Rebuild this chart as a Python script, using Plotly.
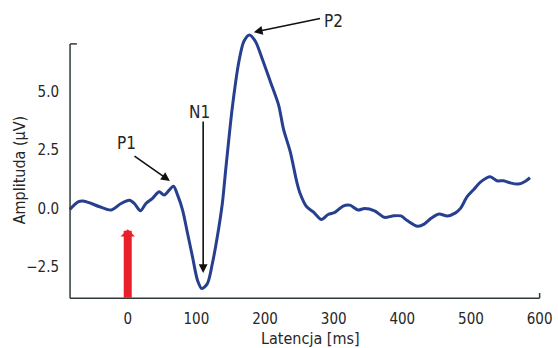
import plotly.graph_objects as go

# Latency (ms) and amplitude (µV)
latency = [-84.3, -72.3, -65.1, -53.1, -40.9, -24.1, -9.7, 2.5, 9.7, 18.4, 26.5, 36.1,
           45.8, 53.1, 66.5, 72.7, 79.9, 87.2, 94.4, 101.6, 108.0, 116.1, 123.3, 130.5,
           137.8, 142.7, 152.2, 161.9, 169.1, 177.4, 186.1, 195.6, 207.8, 219.8, 227.0,
           236.7, 246.2, 251.1, 260.7, 270.3, 282.3, 292.0, 301.7, 313.7, 323.4, 335.4,
           345.1, 359.6, 374.0, 386.0, 398.0, 407.7, 422.2, 431.8, 441.4, 453.5, 465.5,
           477.5, 484.7, 494.4, 504.1, 513.7, 528.1, 537.8, 547.5, 557.0, 569.2, 578.7, 586.0]
amplitude = [-0.04, 0.28, 0.32, 0.21, 0.07, -0.07, 0.21, 0.35, 0.21, -0.10, 0.21, 0.43,
             0.71, 0.57, 0.95, 0.57, -0.07, -1.07, -2.07, -3.06, -3.42, -3.20, -2.35, -1.21,
             0.21, 1.64, 4.27, 6.26, 7.12, 7.40, 7.12, 6.41, 5.41, 4.41, 3.37,
             2.42, 1.14, 0.64, 0.07, -0.15, -0.47, -0.26, -0.17, 0.10, 0.14, -0.07,
             0.00, -0.10, -0.38, -0.32, -0.32, -0.53, -0.76, -0.67, -0.43, -0.24, -0.32,
             -0.19, 0.00, 0.50, 0.81, 1.12, 1.35, 1.18, 1.18, 1.09, 1.04, 1.15, 1.31]

x_ticks = [0, 100, 200, 300, 400, 500, 600]
y_ticks = [-2.5, 0.0, 2.5, 5.0]
y_tick_labels = ["\u22122.5", "0.0", "2.5", "5.0"]

x_axis_start, x_axis_end = -84, 600
y_axis_start, y_axis_end = -3.83, 7.02

# Peak labels: (text, text_x, text_y, tail_x, tail_y, tip_x, tip_y)
peaks = [
    ("P1", -1.9, 2.78, 7.7, 2.28, 61.4, 1.17),
    ("N1", 105.1, 4.13, 109.9, 3.77, 109.9, -2.76),
    ("P2", 299.3, 8.01, 282.3, 8.12, 183.6, 7.52),
]
stimulus_x = 0
stimulus_tip = -0.89

FONT = "Liberation Sans Narrow, DejaVu Sans Condensed, Roboto Condensed, Arial Narrow, Roboto, sans-serif"
AXC = "#2f3b3b"
TXT = "#262626"

fig = go.Figure()
fig.add_trace(go.Scatter(x=latency, y=amplitude, mode="lines",
                         line=dict(color="#263f8e", width=3, shape="spline", smoothing=0.8),
                         hoverinfo="skip", showlegend=False))

shapes = [
    dict(type="line", xref="x", yref="y", x0=x_axis_start, x1=x_axis_start,
         y0=y_axis_start, y1=y_axis_end, line=dict(color=AXC, width=1.5)),
    dict(type="line", xref="x", yref="y", x0=x_axis_start, x1=x_axis_end,
         y0=y_axis_start, y1=y_axis_start, line=dict(color=AXC, width=1.5)),
    dict(type="line", xref="x", yref="y", x0=x_axis_start, x1=x_axis_start + 10,
         y0=y_axis_end, y1=y_axis_end, line=dict(color=AXC, width=1.5)),
    dict(type="line", xref="x", yref="y", x0=x_axis_end, x1=x_axis_end,
         y0=y_axis_start, y1=y_axis_start + 0.22, line=dict(color=AXC, width=1.5)),
]

annotations = []
for name, tx, ty, ax_, ay_, hx, hy in peaks:
    annotations.append(dict(x=tx, y=ty, xref="x", yref="y", text=name, showarrow=False,
                            font=dict(family=FONT, size=17, color=TXT)))
    annotations.append(dict(x=hx, y=hy, ax=ax_, ay=ay_, xref="x", yref="y", axref="x", ayref="y",
                            text="", showarrow=True, arrowhead=2, arrowsize=1.1,
                            arrowwidth=1.6, arrowcolor="#111111", standoff=0))
annotations.append(dict(x=stimulus_x, y=stimulus_tip, ax=stimulus_x, ay=y_axis_start - 0.05,
                        xref="x", yref="y", axref="x", ayref="y", text="", showarrow=True,
                        arrowhead=1, arrowsize=0.3, arrowwidth=8, arrowcolor="#e8202a",
                        standoff=0))
annotations.append(dict(x=0.5126, y=-0.125, xref="paper", yref="paper", text="Latencja [ms]",
                        xanchor="center", yanchor="middle",
                        showarrow=False, font=dict(family=FONT, size=16, color=TXT)))
annotations.append(dict(x=-0.1008, y=0.4426, xref="paper", yref="paper", text="Amplituda (\u00b5V)",
                        xanchor="center", yanchor="middle",
                        showarrow=False, textangle=-90, font=dict(family=FONT, size=16, color=TXT)))

fig.update_layout(
    width=558, height=348,
    margin=dict(l=68, r=14, t=5, b=47),
    paper_bgcolor="white", plot_bgcolor="white",
    shapes=shapes, annotations=annotations,
    xaxis=dict(range=[-87, 602], tickvals=x_ticks, showgrid=False, zeroline=False,
               showline=False, ticks="outside", ticklen=4, tickcolor="rgba(0,0,0,0)",
               tickfont=dict(family=FONT, size=15, color=TXT)),
    yaxis=dict(range=[-3.95, 8.68], tickvals=y_ticks, ticktext=y_tick_labels, showgrid=False,
               zeroline=False, showline=False, ticks="outside", ticklen=5,
               tickcolor="rgba(0,0,0,0)", tickfont=dict(family=FONT, size=15, color=TXT)),
)

fig.write_html("out.html", config={"displayModeBar": False},
               post_script="document.body.style.margin='0';document.body.style.overflow='hidden';")
